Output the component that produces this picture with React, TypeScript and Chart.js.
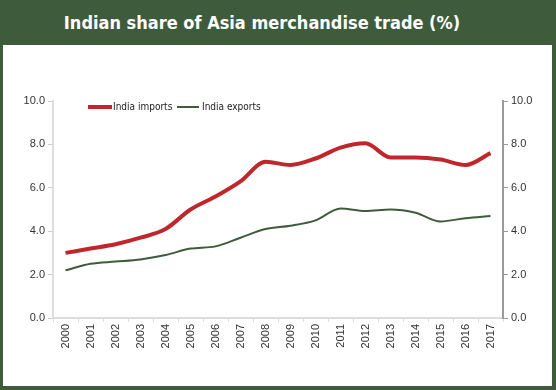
import React, { useEffect, useRef } from "react";
import { Chart, registerables } from "chart.js";

Chart.register(...registerables);

const years = ["2000","2001","2002","2003","2004","2005","2006","2007","2008","2009","2010","2011","2012","2013","2014","2015","2016","2017"];
const indiaImports = [3.0, 3.2, 3.4, 3.7, 4.1, 5.0, 5.6, 6.3, 7.2, 7.05, 7.35, 7.85, 8.05, 7.4, 7.4, 7.3, 7.05, 7.6];
const indiaExports = [2.2, 2.5, 2.6, 2.7, 2.9, 3.2, 3.3, 3.7, 4.1, 4.25, 4.5, 5.05, 4.93, 5.0, 4.85, 4.45, 4.6, 4.7];
const yTicks = [0, 2, 4, 6, 8, 10];

const GREEN = "#3e5b3c";
const RED = "#c0272d";

const legendPlugin = {
  id: "insideLegend",
  afterDraw(chart: any) {
    const ctx = chart.ctx;
    ctx.save();
    ctx.font = "10px 'DejaVu Sans Condensed', 'Roboto', sans-serif";
    ctx.textBaseline = "middle";
    ctx.fillStyle = "#222";
    const y = 62;
    ctx.lineCap = "butt";
    ctx.strokeStyle = RED;
    ctx.lineWidth = 4;
    ctx.beginPath(); ctx.moveTo(85, y); ctx.lineTo(109, y); ctx.stroke();
    ctx.fillText("India imports", 110, y);
    ctx.strokeStyle = GREEN;
    ctx.lineWidth = 2;
    ctx.beginPath(); ctx.moveTo(174, y); ctx.lineTo(196, y); ctx.stroke();
    ctx.fillText("India exports", 199, y);
    ctx.restore();
  },
};

export default function App() {
  const ref = useRef<HTMLCanvasElement | null>(null);
  useEffect(() => {
    if (!ref.current) return;
    const tickFont = { family: "'Liberation Sans', Arial, sans-serif", size: 11 };
    const chart = new Chart(ref.current, {
      type: "line",
      data: {
        labels: years,
        datasets: [
          { label: "India imports", data: indiaImports, borderColor: RED, borderWidth: 4, pointRadius: 0, tension: 0.4, yAxisID: "y", cubicInterpolationMode: "monotone" },
          { label: "India exports", data: indiaExports, borderColor: GREEN, borderWidth: 2, pointRadius: 0, tension: 0.4, yAxisID: "y", cubicInterpolationMode: "monotone" },
        ],
      },
      options: {
        animation: false,
        responsive: false,
        layout: { padding: { top: 56, left: 0, right: 0, bottom: 0 } },
        plugins: { legend: { display: false }, tooltip: { enabled: false } },
        scales: {
          x: {
            offset: true,
            grid: { display: true, drawOnChartArea: false, drawTicks: true, tickLength: 4, color: "#dddddd", offset: true },
            border: { color: "#dddddd", width: 2 },
            ticks: { color: "#333", font: { ...tickFont, size: 11 }, minRotation: 90, maxRotation: 90, autoSkip: false, padding: 2 },
            afterFit: (s: any) => { s.height = 68; },
          },
          y: {
            position: "left",
            min: 0, max: 10,
            afterBuildTicks: (s: any) => { s.ticks = yTicks.map((v) => ({ value: v })); },
            grid: { drawOnChartArea: false, tickLength: 5, color: "#cccccc" },
            border: { color: "#dddddd", width: 2 },
            ticks: { color: "#333", font: tickFont, padding: 3, callback: (v: any) => Number(v).toFixed(1) },
            afterFit: (s: any) => { s.width = 50; },
          },
          y2: {
            position: "right",
            min: 0, max: 10,
            afterBuildTicks: (s: any) => { s.ticks = yTicks.map((v) => ({ value: v })); },
            grid: { drawOnChartArea: false, tickLength: 5, color: "#999999" },
            border: { color: "#999999", width: 2 },
            ticks: { color: "#333", font: tickFont, padding: 3, callback: (v: any) => Number(v).toFixed(1) },
            afterFit: (s: any) => { s.width = 49; },
          },
        },
      },
      plugins: [legendPlugin],
    } as any);
    return () => chart.destroy();
  }, []);

  return (
    <div style={{ position: "fixed", left: 0, top: 0, width: 556, height: 390, background: GREEN }}>
      <div style={{ position: "absolute", left: 0, top: 0, width: 524, height: 45, display: "flex", alignItems: "center", justifyContent: "center", color: "#fff", fontFamily: "'DejaVu Sans Condensed', 'Roboto', sans-serif", fontWeight: "bold", fontSize: 18 }}>
        Indian share of Asia merchandise trade (%)
      </div>
      <div style={{ position: "absolute", left: 3, top: 45, width: 549, height: 341, background: "#fff" }}>
        <canvas ref={ref} width={549} height={341} style={{ display: "block" }} />
      </div>
    </div>
  );
}
